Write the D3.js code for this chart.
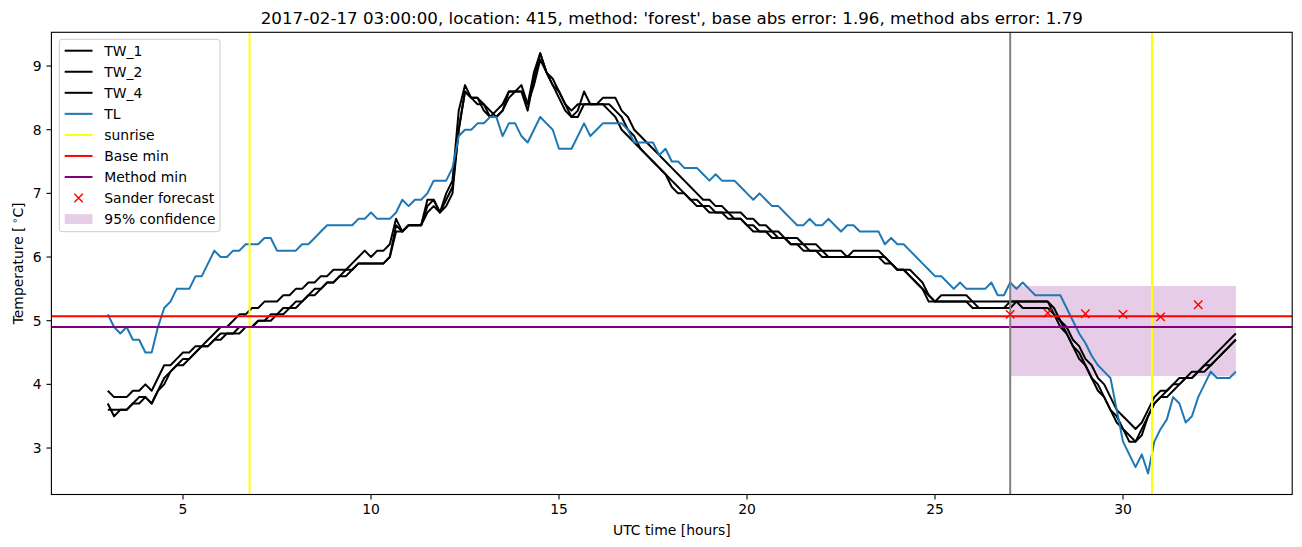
<!DOCTYPE html>
<html><head><meta charset="utf-8">
<script src="https://cdn.jsdelivr.net/npm/d3@7"></script>
<style>
body{margin:0;background:#fff}
text{font-family:"DejaVu Sans",sans-serif;fill:#000}
</style>
</head><body>
<svg id="c" width="1302" height="547"></svg>
<script>
// ---------------- data ----------------
const titleText = "2017-02-17 03:00:00, location: 415, method: 'forest', base abs error: 1.96, method abs error: 1.79";
const tStart = 3;          // hours (UTC)
const tStep = 1 / 6;       // 10-minute samples

const TL = [
  5.1,4.9,4.8,4.9,4.7,4.7,
  4.5,4.5,4.9,5.2,5.3,5.5,
  5.5,5.5,5.7,5.7,5.9,6.1,
  6.0,6.0,6.1,6.1,6.2,6.2,
  6.2,6.3,6.3,6.1,6.1,6.1,
  6.1,6.2,6.2,6.3,6.4,6.5,
  6.5,6.5,6.5,6.5,6.6,6.6,
  6.7,6.6,6.6,6.6,6.7,6.9,
  6.8,6.9,6.9,7.0,7.2,7.2,
  7.2,7.4,7.9,8.0,8.0,8.1,
  8.1,8.2,8.2,7.9,8.1,8.1,
  7.9,7.8,8.0,8.2,8.1,8.0,
  7.7,7.7,7.7,7.9,8.1,7.9,
  8.0,8.1,8.1,8.1,8.1,8.0,
  7.8,7.8,7.8,7.8,7.6,7.7,
  7.5,7.5,7.4,7.4,7.4,7.3,
  7.2,7.3,7.2,7.2,7.2,7.1,
  7.0,6.9,7.0,6.9,6.8,6.8,
  6.7,6.6,6.5,6.5,6.6,6.5,
  6.5,6.6,6.5,6.4,6.5,6.5,
  6.4,6.4,6.4,6.4,6.2,6.3,
  6.2,6.2,6.1,6.0,5.9,5.8,
  5.7,5.7,5.6,5.5,5.6,5.5,
  5.5,5.5,5.5,5.6,5.4,5.4,
  5.6,5.5,5.6,5.5,5.4,5.4,
  5.4,5.4,5.4,5.2,5.0,4.8,
  4.65,4.45,4.3,4.2,4.1,3.6,
  3.1,2.9,2.7,2.9,2.6,3.1,
  3.3,3.45,3.8,3.7,3.4,3.5,
  3.8,4.0,4.2,4.1,4.1,4.1,
  4.2
];

const TW_1 = [
  3.9,3.8,3.8,3.8,3.9,3.9,
  4.0,3.9,4.1,4.3,4.3,4.4,
  4.5,4.5,4.6,4.6,4.7,4.8,
  4.9,4.9,5.0,5.1,5.1,5.2,
  5.2,5.3,5.3,5.3,5.4,5.4,
  5.5,5.5,5.6,5.6,5.7,5.7,
  5.8,5.8,5.8,5.9,6.0,6.1,
  6.0,6.1,6.1,6.2,6.6,6.4,
  6.5,6.5,6.5,6.9,6.9,6.7,
  7.0,7.2,8.3,8.7,8.5,8.5,
  8.3,8.2,8.3,8.4,8.6,8.6,
  8.6,8.4,8.9,9.2,8.9,8.8,
  8.6,8.4,8.3,8.4,8.4,8.4,
  8.4,8.5,8.5,8.5,8.3,8.2,
  8.0,7.9,7.8,7.7,7.6,7.5,
  7.4,7.3,7.2,7.1,7.0,6.9,
  6.9,6.8,6.8,6.7,6.7,6.7,
  6.6,6.6,6.5,6.5,6.4,6.4,
  6.3,6.3,6.3,6.2,6.2,6.2,
  6.1,6.1,6.1,6.1,6.0,6.1,
  6.1,6.1,6.1,6.1,6.0,5.9,
  5.8,5.8,5.8,5.7,5.6,5.4,
  5.3,5.4,5.4,5.4,5.4,5.4,
  5.3,5.3,5.3,5.3,5.3,5.3,
  5.3,5.3,5.3,5.3,5.3,5.3,
  5.3,5.2,5.0,4.9,4.7,4.6,
  4.4,4.3,4.1,4.0,3.8,3.6,
  3.5,3.4,3.3,3.4,3.6,3.8,
  3.9,3.9,4.0,4.1,4.1,4.2,
  4.2,4.3,4.4,4.5,4.6,4.7,
  4.8
];

const TW_2 = [
  3.7,3.5,3.6,3.6,3.7,3.8,
  3.8,3.7,3.9,4.1,4.2,4.3,
  4.4,4.4,4.5,4.6,4.6,4.7,
  4.8,4.8,4.8,4.9,4.9,4.9,
  5.0,5.0,5.1,5.1,5.2,5.2,
  5.3,5.3,5.4,5.5,5.5,5.6,
  5.6,5.7,5.8,5.8,5.9,5.9,
  5.9,5.9,5.9,6.0,6.5,6.4,
  6.5,6.5,6.5,6.8,6.9,6.7,
  6.9,7.1,8.0,8.6,8.5,8.4,
  8.4,8.3,8.2,8.3,8.5,8.6,
  8.7,8.4,8.7,9.1,8.9,8.7,
  8.5,8.3,8.2,8.3,8.6,8.4,
  8.4,8.4,8.4,8.3,8.2,8.0,
  7.9,7.7,7.6,7.5,7.4,7.3,
  7.2,7.1,7.0,6.9,6.9,6.8,
  6.8,6.7,6.7,6.7,6.6,6.6,
  6.5,6.5,6.4,6.4,6.4,6.3,
  6.3,6.2,6.2,6.2,6.1,6.1,
  6.1,6.0,6.0,6.0,6.0,6.0,
  6.0,6.0,6.0,6.0,6.0,5.9,
  5.8,5.8,5.7,5.6,5.5,5.3,
  5.3,5.3,5.3,5.3,5.3,5.3,
  5.2,5.2,5.2,5.2,5.2,5.2,
  5.3,5.3,5.3,5.3,5.3,5.3,
  5.3,5.1,5.0,4.8,4.6,4.4,
  4.3,4.1,3.9,3.8,3.6,3.4,
  3.3,3.1,3.1,3.3,3.5,3.7,
  3.8,3.9,4.0,4.0,4.1,4.1,
  4.2,4.2,4.3,4.4,4.5,4.6,
  4.7
];

const TW_4 = [
  3.6,3.6,3.6,3.6,3.7,3.7,
  3.8,3.7,3.9,4.0,4.2,4.3,
  4.3,4.4,4.5,4.6,4.6,4.7,
  4.7,4.8,4.8,4.8,4.9,4.9,
  5.0,5.0,5.0,5.1,5.1,5.2,
  5.2,5.3,5.4,5.4,5.5,5.6,
  5.6,5.7,5.7,5.8,5.9,5.9,
  5.9,5.9,5.9,6.0,6.4,6.4,
  6.5,6.5,6.5,6.7,6.8,6.7,
  6.8,7.0,8.0,8.6,8.5,8.5,
  8.4,8.2,8.2,8.3,8.6,8.6,
  8.6,8.3,8.8,9.2,8.9,8.7,
  8.6,8.4,8.2,8.2,8.4,8.4,
  8.4,8.4,8.3,8.2,8.0,7.9,
  7.8,7.7,7.6,7.5,7.4,7.3,
  7.1,7.0,7.0,6.9,6.8,6.8,
  6.7,6.7,6.7,6.6,6.6,6.6,
  6.5,6.4,6.4,6.4,6.3,6.3,
  6.3,6.2,6.2,6.1,6.1,6.1,
  6.0,6.0,6.0,6.0,6.0,6.0,
  6.0,6.0,6.0,6.0,5.9,5.9,
  5.8,5.8,5.7,5.6,5.5,5.4,
  5.3,5.3,5.3,5.3,5.3,5.3,
  5.3,5.2,5.2,5.2,5.2,5.2,
  5.2,5.3,5.2,5.2,5.2,5.2,
  5.2,5.1,4.9,4.8,4.6,4.5,
  4.3,4.1,4.0,3.8,3.6,3.5,
  3.3,3.2,3.1,3.2,3.5,3.7,
  3.8,3.8,3.9,4.0,4.1,4.1,
  4.2,4.3,4.3,4.4,4.5,4.6,
  4.7
];

const sunriseTimes = [6.77, 30.77];
const baseMin = 5.07;
const methodMin = 4.90;
const forecastStart = 27;
const forecastTimes = [27, 28, 29, 30, 31, 32];
const forecastValues = [5.10, 5.12, 5.11, 5.10, 5.06, 5.25];
const confTimes = [27, 33];
const confRange = [4.13, 5.545];
const xTicks = [5, 10, 15, 20, 25, 30];
const yTicks = [3, 4, 5, 6, 7, 8, 9];
const legendLabels = ["TW_1","TW_2","TW_4","TL","sunrise","Base min","Method min","Sander forecast","95% confidence"];

// ---------------- layout ----------------
const svg = d3.select("#c");
const L = 51.4, R = 1292.2, T = 32.3, B = 494.5;
const FS = 13.9;

const series = [
  {name:"TW_1", v:TW_1, color:"#000000"},
  {name:"TW_2", v:TW_2, color:"#000000"},
  {name:"TW_4", v:TW_4, color:"#000000"},
  {name:"TL",   v:TL,   color:"#1f77b4"}
];
const timeOf = i => tStart + i * tStep;
const tMin = tStart, tMax = timeOf(TL.length - 1);
const allV = [].concat(TL, TW_1, TW_2, TW_4);
const vMin = d3.min(allV), vMax = d3.max(allV);
const xPad = (tMax - tMin) * 0.05, yPad = (vMax - vMin) * 0.05;

const x = d3.scaleLinear().domain([tMin - xPad, tMax + xPad]).range([L, R]);
const y = d3.scaleLinear().domain([vMin - yPad, vMax + yPad]).range([B, T]);

svg.append("rect").attr("width",1302).attr("height",547).attr("fill","#fff");

svg.append("defs").append("clipPath").attr("id","clip")
  .append("rect").attr("x",L).attr("y",T).attr("width",R-L).attr("height",B-T);
const plot = svg.append("g").attr("clip-path","url(#clip)");

// confidence band (patch, below lines)
plot.append("rect")
  .attr("x", x(confTimes[0])).attr("width", x(confTimes[1]) - x(confTimes[0]))
  .attr("y", y(confRange[1])).attr("height", y(confRange[0]) - y(confRange[1]))
  .attr("fill", "#800080").attr("fill-opacity", 0.2);

const line = d3.line().x((d,i) => x(timeOf(i))).y(d => y(d));
series.forEach(s => {
  plot.append("path").datum(s.v).attr("d", line)
    .attr("fill","none").attr("stroke", s.color).attr("stroke-width", 2)
    .attr("stroke-linejoin","round").attr("stroke-linecap","butt");
});

sunriseTimes.forEach(t => {
  plot.append("line").attr("x1",x(t)).attr("x2",x(t)).attr("y1",T).attr("y2",B)
    .attr("stroke","#ffff00").attr("stroke-width",2);
});
plot.append("line").attr("x1",L).attr("x2",R).attr("y1",y(baseMin)).attr("y2",y(baseMin))
  .attr("stroke","#ff0000").attr("stroke-width",2);
plot.append("line").attr("x1",L).attr("x2",R).attr("y1",y(methodMin)).attr("y2",y(methodMin))
  .attr("stroke","#800080").attr("stroke-width",2);
plot.append("line").attr("x1",x(forecastStart)).attr("x2",x(forecastStart)).attr("y1",T).attr("y2",B)
  .attr("stroke","#808080").attr("stroke-width",2);

function cross(g, cx, cy, r) {
  g.append("path").attr("d",`M${cx-r},${cy-r}L${cx+r},${cy+r}M${cx-r},${cy+r}L${cx+r},${cy-r}`)
    .attr("stroke","#ff0000").attr("stroke-width",1.4).attr("fill","none");
}
forecastTimes.forEach((t,i) => cross(plot, x(t), y(forecastValues[i]), 4.2));

// ---------------- axes ----------------
const axG = svg.append("g");
axG.append("rect").attr("x",L).attr("y",T).attr("width",R-L).attr("height",B-T)
  .attr("fill","none").attr("stroke","#000").attr("stroke-width",1.1);

xTicks.forEach(t => {
  const px = x(t);
  axG.append("line").attr("x1",px).attr("x2",px).attr("y1",B).attr("y2",B+4.9)
    .attr("stroke","#000").attr("stroke-width",1.1);
  axG.append("text").attr("x",px).attr("y",B+19.8).attr("text-anchor","middle")
    .attr("font-size",FS).text(d3.format("d")(t));
});
yTicks.forEach(v => {
  const py = y(v);
  axG.append("line").attr("x1",L-4.9).attr("x2",L).attr("y1",py).attr("y2",py)
    .attr("stroke","#000").attr("stroke-width",1.1);
  axG.append("text").attr("x",L-9.8).attr("y",py+5).attr("text-anchor","end")
    .attr("font-size",FS).text(d3.format("d")(v));
});

svg.append("text").attr("x",(L+R)/2).attr("y",B+40).attr("text-anchor","middle")
  .attr("font-size",FS).text("UTC time [hours]");

const yl = svg.append("text").attr("transform",`translate(23,${(T+B)/2}) rotate(-90)`)
  .attr("text-anchor","middle").attr("font-size",FS);
yl.append("tspan").text("Temperature [\u2009");
yl.append("tspan").attr("dy",-5).attr("font-size",FS*0.7).text("\u2218");
yl.append("tspan").attr("dy",5).text("C]");

svg.append("text").attr("x",(L+R)/2).attr("y",24).attr("text-anchor","middle")
  .attr("font-size",16.7).text(titleText);

// ---------------- legend ----------------
const lg = svg.append("g");
lg.append("rect").attr("x",59.3).attr("y",39.3).attr("width",160.7).attr("height",192.4)
  .attr("rx",2.8).attr("fill","#fff").attr("fill-opacity",0.8)
  .attr("stroke","#cccccc").attr("stroke-width",1);
const legendColors = ["#000000","#000000","#000000","#1f77b4","#ffff00","#ff0000","#800080"];
legendLabels.forEach((lab, i) => {
  const cy = 50.7 + i * 21.05;
  if (i < 7) {
    lg.append("line").attr("x1",64.7).attr("x2",92.5).attr("y1",cy).attr("y2",cy)
      .attr("stroke",legendColors[i]).attr("stroke-width",2);
  } else if (i === 7) {
    cross(lg, 78.6, cy, 4.2);
  } else {
    lg.append("rect").attr("x",64.7).attr("y",cy-4.9).attr("width",27.8).attr("height",9.7)
      .attr("fill","#800080").attr("fill-opacity",0.2);
  }
  lg.append("text").attr("x",104.3).attr("y",cy+5).attr("font-size",FS).text(lab);
});
</script>
</body></html>
